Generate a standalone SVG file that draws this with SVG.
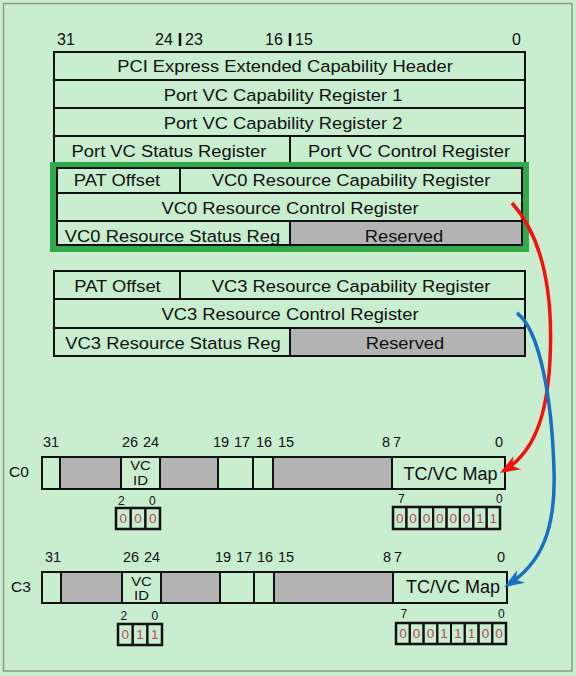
<svg xmlns="http://www.w3.org/2000/svg" width="576" height="676" viewBox="0 0 576 676">
<defs>
<style>
text{font-family:"Liberation Sans",Arial,sans-serif;fill:#111}
.c{fill:#c8edcf;stroke:#111;stroke-width:2}
.g{fill:#b3b3b3;stroke:#111;stroke-width:2}
.t{font-size:17px;text-anchor:middle}
.b{font-size:16px}
.s{font-size:14.5px}
.bl{font-size:12px}
.d{font-size:13.5px;fill:#b94a63;text-anchor:middle}
.bit{fill:none;stroke:#111;stroke-width:2}
.bo{fill:none;stroke:#111;stroke-width:2.5}
.m{font-size:18px;text-anchor:middle}
.v{font-size:13px;text-anchor:middle}
</style>
<marker id="ar" viewBox="-22 -9 26 18" refX="-4" refY="0" markerWidth="26" markerHeight="18" markerUnits="userSpaceOnUse" orient="auto">
<path d="M0,0 L-20,-7.5 L-14,0 L-20,7.5 Z" fill="#f50f0f"/>
</marker>
<marker id="ab" viewBox="-22 -9 26 18" refX="-4" refY="0" markerWidth="26" markerHeight="18" markerUnits="userSpaceOnUse" orient="auto">
<path d="M0,0 L-20,-7.5 L-14,0 L-20,7.5 Z" fill="#1b6fc2"/>
</marker>
</defs>
<rect x="0" y="0" width="576" height="676" fill="#c8edcf"/>
<rect x="3.5" y="3.5" width="568.5" height="667.5" fill="none" stroke="#8a9a8c" stroke-width="1.5"/>

<g id="bit-labels-top">
<text class="b" x="57" y="45">31</text>
<text class="b" x="155" y="45">24</text>
<line x1="180" y1="33" x2="180" y2="46" stroke="#111" stroke-width="2.5"/>
<text class="b" x="185" y="45">23</text>
<text class="b" x="265" y="45">16</text>
<line x1="290" y1="33" x2="290" y2="46" stroke="#111" stroke-width="2.5"/>
<text class="b" x="295" y="45">15</text>
<text class="b" x="512" y="45">0</text>
</g>

<g id="ext-cap-header"><rect class="c" x="54" y="52" width="471" height="28"/><text class="t" transform="translate(285 72) scale(1.08 1)">PCI Express Extended Capability Header</text></g>
<g id="port-vc-cap1"><rect class="c" x="54" y="80" width="471" height="28"/><text class="t" transform="translate(283 101) scale(1.08 1)">Port VC Capability Register 1</text></g>
<g id="port-vc-cap2"><rect class="c" x="54" y="108" width="471" height="28"/><text class="t" transform="translate(283 129) scale(1.08 1)">Port VC Capability Register 2</text></g>
<g id="port-vc-status"><rect class="c" x="54" y="136" width="236" height="30"/><text class="t" transform="translate(169 157) scale(1.08 1)">Port VC Status Register</text></g>
<g id="port-vc-control"><rect class="c" x="290" y="136" width="235" height="30"/><text class="t" transform="translate(409 157) scale(1.08 1)">Port VC Control Register</text></g>

<g id="vc0-group">
<rect x="53" y="165" width="473" height="84" fill="#c8edcf" stroke="#34a94c" stroke-width="6"/>
<g id="vc0-pat"><rect class="c" x="57" y="168" width="123" height="25" stroke-width="1.5"/><text class="t" transform="translate(117 186) scale(1.08 1)">PAT Offset</text></g>
<g id="vc0-cap"><rect class="c" x="180" y="168" width="342" height="25" stroke-width="1.5"/><text class="t" transform="translate(351 186) scale(1.08 1)">VC0 Resource Capability Register</text></g>
<g id="vc0-control"><rect class="c" x="57" y="193" width="465" height="28"/><text class="t" transform="translate(290 214) scale(1.08 1)">VC0 Resource Control Register</text></g>
<g id="vc0-status"><rect class="c" x="57" y="221" width="233" height="24" stroke-width="1.5"/><text class="t" transform="translate(172.5 242) scale(1.08 1)">VC0 Resource Status Reg</text></g>
<g id="vc0-reserved"><rect class="g" x="290" y="221" width="232" height="24" stroke-width="1.5"/><text class="t" transform="translate(404 242) scale(1.08 1)">Reserved</text></g>
</g>

<g id="vc3-group">
<g id="vc3-pat"><rect class="c" x="54" y="271" width="126" height="28"/><text class="t" transform="translate(117.5 292) scale(1.08 1)">PAT Offset</text></g>
<g id="vc3-cap"><rect class="c" x="180" y="271" width="345" height="28"/><text class="t" transform="translate(351 292) scale(1.08 1)">VC3 Resource Capability Register</text></g>
<g id="vc3-control"><rect class="c" x="54" y="299" width="471" height="29"/><text class="t" transform="translate(290 320) scale(1.08 1)">VC3 Resource Control Register</text></g>
<g id="vc3-status"><rect class="c" x="54" y="328" width="236" height="28"/><text class="t" transform="translate(173 349) scale(1.08 1)">VC3 Resource Status Reg</text></g>
<g id="vc3-reserved"><rect class="g" x="290" y="328" width="235" height="28"/><text class="t" transform="translate(405 349) scale(1.08 1)">Reserved</text></g>
</g>

<g id="c0-register">
<text class="b" x="9" y="477" style="font-size:15.5px">C0</text>
<text class="s" x="43" y="447">31</text>
<text class="s" x="122" y="447">26</text>
<text class="s" x="143" y="447">24</text>
<text class="s" x="213" y="447">19</text>
<text class="s" x="234" y="447">17</text>
<text class="s" x="256" y="447">16</text>
<text class="s" x="278" y="447">15</text>
<text class="s" x="382" y="447">8</text>
<text class="s" x="393" y="447">7</text>
<text class="s" x="495" y="447">0</text>
<rect class="c" x="42" y="457" width="18" height="32"/>
<rect class="g" x="60" y="457" width="61" height="32"/>
<rect class="c" x="121" y="457" width="39" height="32"/>
<rect class="g" x="160" y="457" width="58" height="32"/>
<rect class="c" x="218" y="457" width="35" height="32"/>
<rect class="c" x="253" y="457" width="20" height="32"/>
<rect class="g" x="273" y="457" width="119" height="32"/>
<rect class="c" x="392" y="457" width="113" height="32"/>
<text class="v" transform="translate(140.5 470) scale(1.15 1)">VC</text>
<text class="v" transform="translate(140.5 485) scale(1.15 1)">ID</text>
<text class="m" x="450.5" y="480">TC/VC Map</text>
</g>

<g id="c0-vcid-bits">
<text class="bl" x="118" y="505">2</text>
<text class="bl" x="149" y="505">0</text>
<rect class="bit" x="116" y="508" width="14.67" height="21"/>
<rect class="bit" x="130.67" y="508" width="14.67" height="21"/>
<rect class="bit" x="145.33" y="508" width="14.67" height="21"/>
<rect class="bo" x="116" y="508" width="44" height="21"/>
<text class="d" x="123.3" y="523">0</text>
<text class="d" x="138" y="523">0</text>
<text class="d" x="152.7" y="523">0</text>
</g>

<g id="c0-map-bits">
<text class="bl" x="398" y="503">7</text>
<text class="bl" x="496" y="503">0</text>
<rect class="bit" x="393" y="507" width="13.375" height="22"/>
<rect class="bit" x="406.375" y="507" width="13.375" height="22"/>
<rect class="bit" x="419.75" y="507" width="13.375" height="22"/>
<rect class="bit" x="433.125" y="507" width="13.375" height="22"/>
<rect class="bit" x="446.5" y="507" width="13.375" height="22"/>
<rect class="bit" x="459.875" y="507" width="13.375" height="22"/>
<rect class="bit" x="473.25" y="507" width="13.375" height="22"/>
<rect class="bit" x="486.625" y="507" width="13.375" height="22"/>
<rect class="bo" x="393" y="507" width="107" height="22"/>
<text class="d" x="399.7" y="523">0</text>
<text class="d" x="413.1" y="523">0</text>
<text class="d" x="426.4" y="523">0</text>
<text class="d" x="439.8" y="523">0</text>
<text class="d" x="453.2" y="523">0</text>
<text class="d" x="466.6" y="523">0</text>
<text class="d" x="479.9" y="523">1</text>
<text class="d" x="493.3" y="523">1</text>
</g>

<g id="c3-register">
<text class="b" x="11" y="592" style="font-size:15.5px">C3</text>
<text class="s" x="45" y="562">31</text>
<text class="s" x="123" y="562">26</text>
<text class="s" x="144" y="562">24</text>
<text class="s" x="215" y="562">19</text>
<text class="s" x="236" y="562">17</text>
<text class="s" x="257" y="562">16</text>
<text class="s" x="278" y="562">15</text>
<text class="s" x="383" y="562">8</text>
<text class="s" x="394" y="562">7</text>
<text class="s" x="497" y="562">0</text>
<rect class="c" x="42" y="572" width="19" height="31"/>
<rect class="g" x="61" y="572" width="61" height="31"/>
<rect class="c" x="122" y="572" width="39" height="31"/>
<rect class="g" x="161" y="572" width="59" height="31"/>
<rect class="c" x="220" y="572" width="34" height="31"/>
<rect class="c" x="254" y="572" width="20" height="31"/>
<rect class="g" x="274" y="572" width="119" height="31"/>
<rect class="c" x="393" y="572" width="114" height="31"/>
<text class="v" transform="translate(141.5 585.5) scale(1.15 1)">VC</text>
<text class="v" transform="translate(141.5 600) scale(1.15 1)">ID</text>
<text class="m" x="453" y="593">TC/VC Map</text>
</g>

<g id="c3-vcid-bits">
<text class="bl" x="120.5" y="620">2</text>
<text class="bl" x="151.5" y="620">0</text>
<rect class="bit" x="118" y="624" width="14.67" height="21"/>
<rect class="bit" x="132.67" y="624" width="14.67" height="21"/>
<rect class="bit" x="147.33" y="624" width="14.67" height="21"/>
<rect class="bo" x="118" y="624" width="44" height="21"/>
<text class="d" x="125.3" y="639">0</text>
<text class="d" x="140" y="639">1</text>
<text class="d" x="154.7" y="639">1</text>
</g>

<g id="c3-map-bits">
<text class="bl" x="400.5" y="618">7</text>
<text class="bl" x="498" y="618">0</text>
<rect class="bit" x="396" y="623" width="13.75" height="21"/>
<rect class="bit" x="409.75" y="623" width="13.75" height="21"/>
<rect class="bit" x="423.5" y="623" width="13.75" height="21"/>
<rect class="bit" x="437.25" y="623" width="13.75" height="21"/>
<rect class="bit" x="451" y="623" width="13.75" height="21"/>
<rect class="bit" x="464.75" y="623" width="13.75" height="21"/>
<rect class="bit" x="478.5" y="623" width="13.75" height="21"/>
<rect class="bit" x="492.25" y="623" width="13.75" height="21"/>
<rect class="bo" x="396" y="623" width="110" height="21"/>
<text class="d" x="402.9" y="638">0</text>
<text class="d" x="416.6" y="638">0</text>
<text class="d" x="430.4" y="638">0</text>
<text class="d" x="444.1" y="638">1</text>
<text class="d" x="457.9" y="638">1</text>
<text class="d" x="471.6" y="638">1</text>
<text class="d" x="485.4" y="638">0</text>
<text class="d" x="499.1" y="638">0</text>
</g>

<g id="connectors" fill="none" stroke-width="3.5">
<path d="M512,203 C545,240 553,300 550,360 C547,420 532,454 503.5,471" stroke="#f50f0f" marker-end="url(#ar)"/>
<path d="M517,313 C540,330 552,400 554,470 C556,530 541,564 507.5,585" stroke="#1b6fc2" marker-end="url(#ab)"/>
</g>
</svg>
